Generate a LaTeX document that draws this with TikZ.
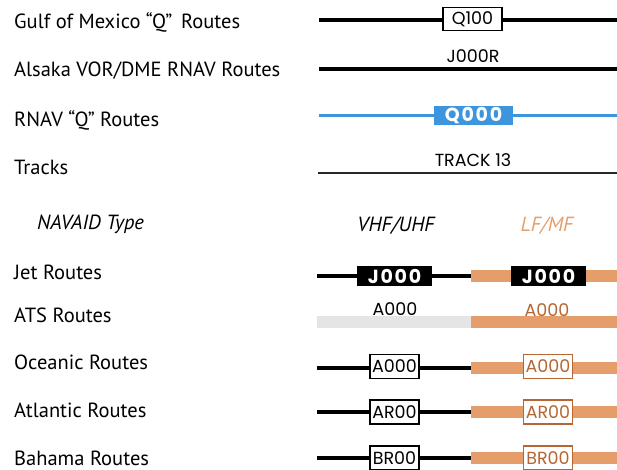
\documentclass[tikz,border=0pt]{standalone}
\usepackage{fontspec}
\setmainfont{PT Sans}
\newfontfamily\geofont{Poppins}
\usepackage{xcolor}
\usetikzlibrary{positioning}
\definecolor{lfband}{RGB}{229,158,107}
\definecolor{lftext}{RGB}{181,102,50}
\definecolor{rnavblue}{RGB}{61,149,221}
\definecolor{atsgray}{RGB}{229,229,229}
\tikzset{
  lab/.style={anchor=west,inner sep=0pt,font=\fontsize{20.5}{22}\selectfont},
  hdr/.style={inner sep=0pt,font=\fontsize{20.5}{22}\selectfont\itshape},
  idtxt/.style={inner sep=0pt,font=\geofont\fontsize{17.5}{19}\selectfont},
  rte/.style={line width=3.5pt,black},
  trk/.style={line width=1.3pt,black!85},
  rnav/.style={line width=3.5pt,rnavblue},
  lfrte/.style={line width=12pt,lfband},
  atsrte/.style={line width=12pt,atsgray},
  idbox/.style={rectangle,draw=black,fill=white,line width=1.5pt,minimum width=49pt,minimum height=24pt,inner sep=1pt,font=\geofont\fontsize{17.5}{19}\selectfont},
  lfbox/.style={idbox,draw=lftext,line width=1.2pt,text=lftext},
  jetbox/.style={rectangle,fill=black,text=white,minimum width=75pt,minimum height=20pt,inner sep=0pt,font=\geofont\bfseries\fontsize{19}{20}\selectfont\addfontfeature{LetterSpace=9}},
  qbox/.style={jetbox,fill=rnavblue,minimum width=79pt,minimum height=19pt}
}
\begin{document}
\begin{tikzpicture}[x=1pt,y=-1pt]
  \useasboundingbox (0,0) rectangle (617,469);
  % row labels
  \node[lab] (lgulf) at (14,22) {Gulf of Mexico “Q”\, Routes};
  \node[lab] (lalsk) at (14,71) {Alsaka VOR/DME RNAV Routes};
  \node[lab] (lrnav) at (14,120) {RNAV “Q” Routes};
  \node[lab] (ltrk) at (14,167) {Tracks};
  \node[hdr,anchor=west] (lnav) at (37,224) {NAVAID Type};
  \node[lab] (ljet) at (14,272) {Jet Routes};
  \node[lab] (lats) at (14,315) {ATS Routes};
  \node[lab] (locn) at (14,362) {Oceanic Routes};
  \node[lab] (latl) at (14,410) {Atlantic Routes};
  \node[lab] (lbah) at (14,458) {Bahama Routes};

  % upper samples
  \coordinate (g0) at (319,20); \coordinate (g1) at (617,20);
  \draw[rte] (g0) -- (g1);
  \node[idbox,minimum width=59pt,minimum height=23pt] (gq) at (472.5,19) {Q100};

  \coordinate (a0) at (319,69); \coordinate (a1) at (617,69);
  \draw[rte] (a0) -- (a1);
  \node[idtxt] (aj) at (473,56) {J000R};

  \coordinate (r0) at (319,115.5); \coordinate (r1) at (617,115.5);
  \draw[rnav] (r0) -- (r1);
  \node[qbox] (rq) at (473.5,115.5) {Q000};

  \coordinate (t0) at (318,173); \coordinate (t1) at (617,173);
  \draw[trk] (t0) -- (t1);
  \node[idtxt] (tt) at (473,160) {TRACK 13};

  % NAVAID columns
  \node[hdr] (hvhf) at (396,226) {VHF/UHF};
  \node[hdr,text=lfband] (hlf) at (547,226) {LF/MF};

  \coordinate (j0) at (317,276); \coordinate (jm) at (471,276); \coordinate (j1) at (617,276);
  \draw[rte] (j0) -- (jm);
  \draw[lfrte] (jm) -- (j1);
  \node[jetbox] (jv) at (394.5,276) {J000};
  \node[jetbox] (jl) at (548.5,276) {J000};

  \coordinate (s0) at (317,322); \coordinate (sm) at (471,322); \coordinate (s1) at (617,322);
  \draw[atsrte] (s0) -- (sm);
  \draw[lfrte] (sm) -- (s1);
  \node[idtxt] (sv) at (395,309) {A000};
  \node[idtxt,text=lftext] (sl) at (547,310) {A000};

  \coordinate (o0) at (317,368); \coordinate (om) at (471,368); \coordinate (o1) at (617,368);
  \draw[rte] (o0) -- (om);
  \draw[lfrte] (om) -- (o1);
  \node[idbox] (ov) at (394.5,366.5) {A000};
  \node[lfbox] (ol) at (548,366.5) {A000};

  \coordinate (n0) at (317,412); \coordinate (nm) at (471,412); \coordinate (n1) at (617,412);
  \draw[rte] (n0) -- (nm);
  \draw[lfrte] (nm) -- (n1);
  \node[idbox] (nv) at (394.5,412) {AR00};
  \node[lfbox] (nl) at (548,412) {AR00};

  \coordinate (b0) at (317,458); \coordinate (bm) at (471,458); \coordinate (b1) at (617,458);
  \draw[rte] (b0) -- (bm);
  \draw[lfrte] (bm) -- (b1);
  \node[idbox] (bv) at (394.5,458) {BR00};
  \node[lfbox] (bl) at (548,458) {BR00};
\end{tikzpicture}
\end{document}
